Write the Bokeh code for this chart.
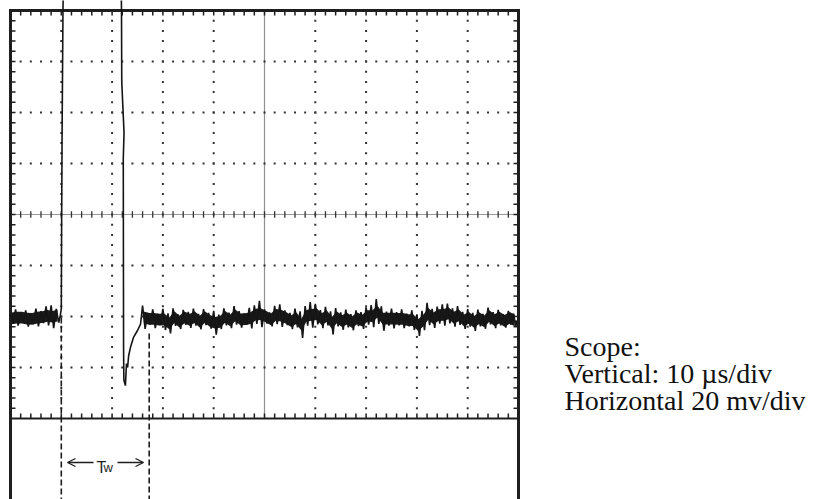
import numpy as np
from bokeh.plotting import figure
from bokeh.models import Range1d, Arrow, OpenHead
from bokeh.core.properties import value
from bokeh.embed import file_html
from bokeh.resources import INLINE

# ---------------- scope settings ----------------
T_DIV = 10.0          # µs per division (time axis)
V_DIV = 20.0          # mV per division (voltage axis)
N_XDIV = 10
N_YDIV = 8
T_MAX = T_DIV * N_XDIV          # 100 µs
V_MAX = V_DIV * N_YDIV / 2      # 80 mV

# ---------------- trace data ----------------
# noisy baseline before the pulse, 1 µs steps from t=0: upper / lower excursions (mV)
pre_t0 = 0.0
pre_hi = [-38.9, -37.2, -38.6, -37.6, -38.9, -36.9, -37.9, -36.0, -35.6, -37.0]
pre_lo = [-42.5, -43.6, -42.2, -44.0, -43.0, -43.9, -42.6, -43.5, -44.6, -42.4]

# pulse: rise, off-screen top, fall, undershoot and recovery
pulse_t = [9.8, 10.0, 10.05, 10.15, 10.33, 10.45, 21.75, 21.85, 21.9, 22.35, 22.2,
           22.24, 22.26, 22.32, 22.62, 22.83, 23.05, 23.25, 23.62, 24.21, 25.0, 25.6]
pulse_v = [-39.6, -37.0, -10.0, 30.0, 80.0, 95.0, 95.0, 80.0, 52.0, 32.0, 22.0,
           -30.0, -53.0, -65.0, -67.1, -58.4, -60.0, -55.5, -52.1, -48.2, -45.5, -43.0]

# noisy baseline after the pulse, 1 µs steps from t=26
post_t0 = 26.0
post_hi = [-35.7, -38.6, -37.2, -39.0, -37.0, -38.8, -36.8, -39.2, -37.4, -38.2,
           -36.9, -39.0, -37.1, -38.6, -37.8, -39.3, -36.8, -38.5, -35.9, -37.9,
           -38.8, -36.6, -35.6, -33.9, -37.2, -38.4, -35.8, -35.2, -37.6, -38.6,
           -36.9, -38.0, -35.9, -34.3, -35.0, -37.5, -36.2, -38.0, -36.7, -38.4,
           -37.3, -39.1, -37.6, -38.3, -36.4, -35.5, -33.2, -36.0, -38.1, -36.9,
           -38.3, -37.2, -38.9, -37.6, -39.2, -37.8, -34.6, -37.0, -36.1, -35.2,
           -34.9, -36.8, -35.9, -38.2, -37.1, -38.6, -37.3, -39.0, -36.5, -38.3,
           -37.4, -39.1, -37.8, -38.9]
post_lo = [-44.9, -43.2, -44.6, -43.4, -45.3, -46.6, -43.7, -44.9, -43.3, -44.5,
           -43.6, -45.0, -43.4, -44.8, -47.1, -44.9, -43.5, -44.6, -43.2, -44.4,
           -43.3, -44.7, -42.9, -44.2, -42.8, -43.9, -43.0, -44.1, -43.4, -45.0,
           -44.3, -48.4, -43.6, -44.4, -43.1, -44.6, -43.5, -47.0, -43.9, -45.2,
           -44.3, -45.4, -43.8, -44.9, -43.2, -44.2, -42.9, -45.6, -43.6, -44.7,
           -43.5, -44.6, -43.9, -45.3, -47.6, -45.4, -43.4, -44.5, -42.8, -43.6,
           -42.7, -44.0, -43.3, -44.9, -44.0, -45.6, -43.9, -44.8, -43.1, -44.6,
           -43.5, -44.4, -43.2, -44.1]
end_t = 99.6
end_v = -41.5

# pulse width markers (Tw)
tw_t = [10.0, 27.3]
tw_v = [-40.4, -46.7]

info_lines = ["Scope:", "Vertical: 10 \u00b5s/div", "Horizontal 20 mv/div"]

# ---------------- assemble trace ----------------
tr_t, tr_v = [], []
for i, (h, l) in enumerate(zip(pre_hi, pre_lo)):
    tr_t += [pre_t0 + i, pre_t0 + i + 0.5]
    tr_v += [h, l]
tr_t += pulse_t
tr_v += pulse_v
for i, (h, l) in enumerate(zip(post_hi, post_lo)):
    tr_t += [post_t0 + i, post_t0 + i + 0.5]
    tr_v += [h, l]
tr_t.append(end_t)
tr_v.append(end_v)

# ---------------- figure ----------------
W, H = 818, 499
PX_T = 50.8 / T_DIV    # px per µs
PX_V = 51.0 / V_DIV    # px per mV
x0 = -10.0 / PX_T
x1 = x0 + W / PX_T
y1 = 214.0 / PX_V
y0 = y1 - H / PX_V

def tx(px):
    return (px - 10.0) / PX_T

def vy(py):
    return (214.0 - py) / PX_V

p = figure(width=W, height=H, x_range=Range1d(x0, x1), y_range=Range1d(y0, y1),
           output_backend="svg", toolbar_location=None, min_border=0,
           x_axis_type=None, y_axis_type=None)
p.grid.visible = False
p.outline_line_color = None
p.background_fill_color = "white"
p.border_fill_color = "white"

ink = "#1e1e1e"

# dotted graticule
gx, gy = [], []
for k in range(1, N_XDIV):
    if k == N_XDIV // 2:
        continue
    for vv in np.arange(-V_MAX + 4, V_MAX, 4):
        gx.append(k * T_DIV); gy.append(vv)
for k in range(1, N_YDIV):
    if k == N_YDIV // 2:
        continue
    for tt in np.arange(2, T_MAX, 2):
        gx.append(tt); gy.append(-V_MAX + k * V_DIV)
p.scatter(gx, gy, marker="square", size=2, color="#333333", line_width=0)

# center lines
p.line([0, T_MAX], [0, 0], line_color="#333333", line_width=1, line_dash="1 1")
p.line([T_MAX / 2, T_MAX / 2], [-V_MAX, V_MAX], line_color="#222222", line_width=1.2, line_dash="1 1")
ct = np.arange(2, T_MAX, 2)
p.segment(x0=ct, y0=[-1.3] * len(ct), x1=ct, y1=[1.3] * len(ct), line_color="#333333", line_width=1.3)

# edge ticks
tl = 5 / PX_V
tt_ = np.arange(2, T_MAX, 2)
p.segment(x0=tt_, y0=[V_MAX] * len(tt_), x1=tt_, y1=[V_MAX - tl] * len(tt_), line_color=ink, line_width=1.5)
p.segment(x0=tt_, y0=[-V_MAX] * len(tt_), x1=tt_, y1=[-V_MAX + tl] * len(tt_), line_color=ink, line_width=1.5)
vt = np.arange(-V_MAX + 4, V_MAX, 4)
tlx = 5 / PX_T
p.segment(x0=[0] * len(vt), y0=vt, x1=[tlx] * len(vt), y1=vt, line_color=ink, line_width=1.5)
p.segment(x0=[T_MAX] * len(vt), y0=vt, x1=[T_MAX - tlx] * len(vt), y1=vt, line_color=ink, line_width=1.5)

# screen frame
p.line([0, 0, T_MAX, T_MAX], [y0, V_MAX, V_MAX, y0], line_color=ink, line_width=3, line_join="miter")
p.line([0, T_MAX], [-V_MAX, -V_MAX], line_color=ink, line_width=2)

# Tw dashed markers
p.segment(x0=tw_t, y0=tw_v, x1=tw_t, y1=[y0] * 2, line_color=ink, line_width=1.6, line_dash="6 3")

# trace: dense core of the noise band + zig-zag trace reaching the excursions
CORE = 2.3  # mV half-thickness of the dense core
for t0, hi, lo in ((pre_t0, pre_hi, pre_lo), (post_t0, post_hi, post_lo)):
    xs = [t0 + i + 0.25 for i in range(len(hi))]
    mid = [(h + l) / 2 for h, l in zip(hi, lo)]
    p.varea(x=xs, y1=[m + CORE for m in mid], y2=[m - CORE for m in mid], fill_color="#1a1a1a")
p.line(tr_t, tr_v, line_color="#151515", line_width=1.6)

# Tw arrows + label
ya = vy(462)
p.add_layout(Arrow(end=OpenHead(size=8, line_width=1.3, line_color=ink),
                   x_start=tx(93), y_start=ya, x_end=tx(67), y_end=ya, line_width=1.3, line_color=ink))
p.add_layout(Arrow(end=OpenHead(size=8, line_width=1.3, line_color=ink),
                   x_start=tx(117), y_start=ya, x_end=tx(143), y_end=ya, line_width=1.3, line_color=ink))
yb = vy(467)
p.text(x=[tx(96)], y=[yb], text=["T"], text_font=value("Liberation Sans"), text_font_size="16px",
       text_baseline="alphabetic", text_align="left", text_color=ink)
p.text(x=[tx(103)], y=[yb], text=["w"], text_font=value("Liberation Sans"), text_font_size="13px",
       text_baseline="alphabetic", text_align="left", text_color=ink)

# scope info text
ys = [vy(py) for py in (346, 373, 400)]
p.text(x=[tx(564)] * 3, y=ys, text=info_lines, text_font=value("Liberation Serif"),
       text_font_size="28px", text_baseline="middle", text_align="left", text_color="#111111")

open("out.html", "w").write(file_html(p, INLINE))
